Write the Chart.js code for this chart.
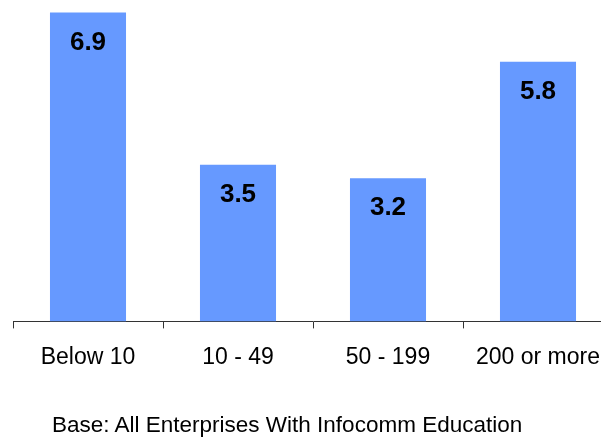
<!DOCTYPE html>
<html>
<head>
<meta charset="utf-8">
<script src="https://cdn.jsdelivr.net/npm/chart.js@4"></script>
<style>
  html, body { margin: 0; padding: 0; background: #fff; overflow: hidden; }
  #wrap { position: relative; width: 620px; height: 441px; }
  #footnote {
    position: absolute; left: 52px; top: 412px;
    font: 22.5px Arial, "Liberation Sans", sans-serif; color: #000; white-space: nowrap;
  }
</style>
</head>
<body>
<div id="wrap">
  <canvas id="sizeChart" width="620" height="441"></canvas>
  <div id="footnote">Base: All Enterprises With Infocomm Education</div>
</div>
<script>
const categories = ['Below 10', '10 - 49', '50 - 199', '200 or more'];
const values = [6.9, 3.5, 3.2, 5.8];

// writes each bar's value just inside its top edge
const valueLabels = {
  id: 'valueLabels',
  afterDatasetsDraw(chart) {
    const c = chart.ctx;
    c.save();
    c.font = 'bold 26px Arial, "Liberation Sans", sans-serif';
    c.fillStyle = '#000';
    c.textAlign = 'center';
    c.textBaseline = 'middle';
    chart.getDatasetMeta(0).data.forEach((bar, i) => {
      c.fillText(values[i].toFixed(1), bar.x, bar.y + 30);
    });
    c.restore();
  }
};

const ctx = document.getElementById('sizeChart').getContext('2d');
new Chart(ctx, {
  type: 'bar',
  data: {
    labels: categories,
    datasets: [{
      data: values,
      backgroundColor: '#6699FF',
      borderWidth: 0,
      categoryPercentage: 1,
      barPercentage: 0.507
    }]
  },
  options: {
    responsive: false,
    animation: false,
    layout: { padding: { left: 13, right: 7, top: 8, bottom: 55 } },
    plugins: { legend: { display: false }, tooltip: { enabled: false } },
    scales: {
      x: {
        offset: true,
        grid: { offset: true, drawOnChartArea: false, drawTicks: true, tickLength: 7, color: '#333' },
        border: { color: '#333', width: 1 },
        ticks: { color: '#000', padding: 15, font: { family: 'Arial, "Liberation Sans", sans-serif', size: 23 } }
      },
      y: { display: false, min: 0, max: 7 }
    }
  },
  plugins: [valueLabels]
});
</script>
</body>
</html>
